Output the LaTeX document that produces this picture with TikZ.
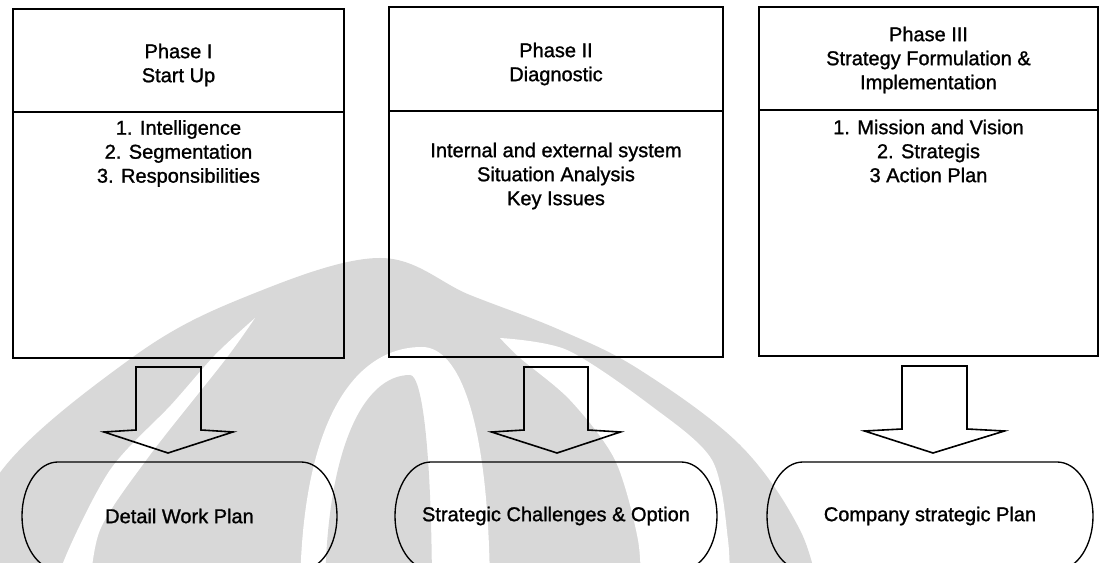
\documentclass[tikz,border=0pt]{standalone}
\usepackage{fontspec}
\setmainfont{Liberation Sans}[FakeBold=1.2]
\usetikzlibrary{calc}
\definecolor{wmgray}{RGB}{216,216,216}

% one arch of the background emblem: colour, left foot, apex x, apex y, right foot, control heights
\newcommand\wmarch[7]{%
  \fill[#1] (#2,600) .. controls (#2,#6) and ({#3-0.55*(#3-#2)},#4) .. (#3,#4)
    .. controls ({#3+0.55*(#5-#3)},#4) and (#5,#7) .. (#5,600) -- cycle;}

% hollow block arrow: start point, tip, half shaft width, half head width
\newcommand\blockarrow[4]{%
  \draw[arrowline] ($(#1)+(-#3,0)$) -- ($(#1)+(-#3,-63)$) -- ($(#1)+(-#4,-65)$) -- (#2)
    -- ($(#1)+(#4,-65)$) -- ($(#1)+(#3,-63)$) -- ($(#1)+(#3,0)$) -- cycle;}

% flat-topped oval with elliptic ends around a named node
\newcommand\outcomeframe[1]{%
  \draw[ovalline] ($(#1.north west)+(36,0)$) -- ($(#1.north east)+(-36,0)$)
    arc[start angle=90,end angle=-90,x radius=27pt,y radius=40.5pt]
    -- ($(#1.south west)+(36,0)$)
    arc[start angle=270,end angle=90,x radius=27pt,y radius=40.5pt] -- cycle;}

\begin{document}
\begin{tikzpicture}[x=0.75pt,y=0.75pt,
  phasebox/.style 2 args={draw=black,line width=1.1pt,minimum width=#1,minimum height=#2,
    inner sep=0pt,outer sep=0pt},
  label/.style={align=center,inner sep=0pt,font=\fontsize{15}{18}\selectfont},
  outcome/.style={rectangle,minimum width=#1,minimum height=81pt,inner sep=0pt,outer sep=0pt,
    font=\fontsize{15}{18}\selectfont},
  ovalline/.style={draw=black,line width=1.0pt},
  arrowline/.style={draw=black,line width=1.2pt,line join=miter}]

\useasboundingbox (0,0) rectangle (1103,563);
\clip (0,0) rectangle (1103,563);

% faint emblem in the background
\begin{scope}[shift={(0,563)},yscale=-1]
  \fill[wmgray] plot[smooth,tension=0.6] coordinates {(-20,600) (-5,480) (133,357) (250,295)
    (380,258) (470,295) (560,330) (640,370) (740,445) (800,530) (820,600)} -- cycle;
  \fill[white] plot[smooth] coordinates {(61,600) (63,563) (110,470) (171,405) (215,355) (255,318)}
    -- plot[smooth] coordinates {(255,318) (225,360) (150,455) (100,530) (89,600)} -- cycle;
  \wmarch{white}{300}{422}{347}{490}{420}{420}
  \wmarch{wmgray}{325}{410}{375}{432}{450}{450}
  \fill[white] plot[smooth] coordinates {(500,338) (567,350) (650,405) (712,460) (728,540) (730,600)}
    -- plot[smooth] coordinates {(641,600) (638,540) (615,460) (570,400) (520,358) (500,338)} -- cycle;
\end{scope}

% phase boxes: header and body
\node[phasebox={248.25pt}{77.25pt}] (h1) at (178.5,502.5) {};
\node[phasebox={248.25pt}{184.5pt},anchor=north] (b1) at (h1.south) {};
\node[phasebox={250.5pt}{78pt}] (h2) at (556,504) {};
\node[phasebox={250.5pt}{184.5pt},anchor=north] (b2) at (h2.south) {};
\node[phasebox={254.25pt}{77.25pt}] (h3) at (928.5,504.5) {};
\node[phasebox={254.25pt}{184.5pt},anchor=north] (b3) at (h3.south) {};

% box texts
\node[label] (h1t) at (178.5,498) {Phase I\\Start Up};
\node[label] (b1t) at (178.5,409.5) {1. Intelligence\\2. Segmentation\\3. Responsibilities};
\node[label] (h2t) at (556,499) {Phase II\\Diagnostic};
\node[label] (b2t) at (556,387) {Internal and external system\\Situation Analysis\\Key Issues};
\node[label] (h3t) at (928.5,503) {Phase III\\Strategy Formulation \&\\Implementation};
\node[label] (b3t) at (928.5,412) {1. Mission and Vision\\2. Strategis\\3 Action Plan};

% outcomes
\node[outcome=236.25pt] (o1) at (179.5,47) {Detail Work Plan};
\node[outcome=241.5pt] (o2) at (556,47) {Strategic Challenges \& Option};
\node[outcome=244.5pt] (o3) at (930,47) {Company strategic Plan};
\outcomeframe{o1}
\outcomeframe{o2}
\outcomeframe{o3}

% arrows from each phase to its outcome
\coordinate (a1s) at ($(b1.south)+(-10,-9)$);
\coordinate (a1t) at ($(o1.north)+(-11.5,9)$);
\coordinate (a2s) at ($(b2.south)+(0,-10)$);
\coordinate (a2t) at ($(o2.north)+(1,9)$);
\coordinate (a3s) at ($(b3.south)+(6,-10)$);
\coordinate (a3t) at ($(o3.north)+(3,9)$);
\blockarrow{a1s}{a1t}{32.5}{64.5}
\blockarrow{a2s}{a2t}{32}{64.5}
\blockarrow{a3s}{a3t}{32.5}{70}

\end{tikzpicture}
\end{document}
